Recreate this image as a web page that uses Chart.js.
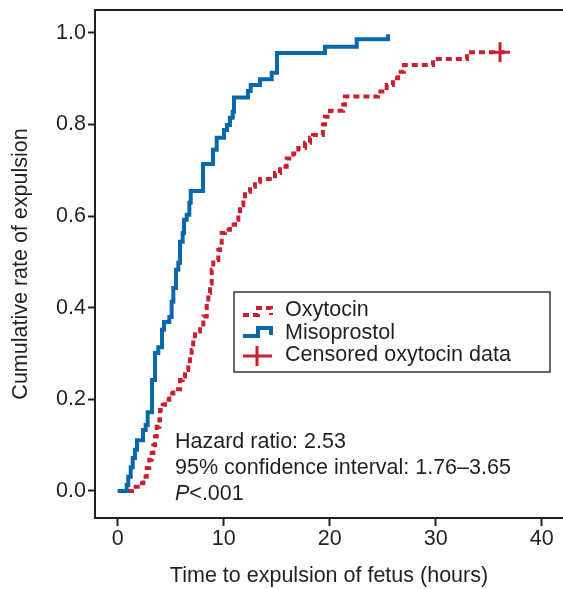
<!DOCTYPE html>
<html>
<head>
<meta charset="utf-8">
<script src="https://cdn.jsdelivr.net/npm/chart.js@4.4.1/dist/chart.umd.min.js"></script>
<style>
  html, body { margin: 0; padding: 0; background: #fff; }
</style>
</head>
<body>
<canvas id="km" width="563" height="589"></canvas>
<script>
// Kaplan-Meier style cumulative expulsion curves

const xTicks = [0, 10, 20, 30, 40];
const yTicks = [0, 0.2, 0.4, 0.6, 0.8, 1.0];

// Misoprostol: event times (hours) and cumulative rate after each step
const misoTimes = [0, 0.84, 0.99, 1.22, 1.41, 1.62, 1.81, 2.38, 2.63, 2.82, 3.23, 3.51, 3.82,
  4.17, 4.36, 4.86, 5.08, 5.24, 5.49, 5.71, 5.87, 6.12, 6.25, 6.50, 6.75, 6.88, 8.04, 8.98, 9.33,
  10.02, 10.30, 10.58, 10.84, 10.96, 12.28, 12.54, 13.42, 14.52, 15.02, 19.55, 22.54, 25.49];
const misoRates = [0, 0.013, 0.031, 0.052, 0.072, 0.090, 0.111, 0.133, 0.144, 0.172, 0.242, 0.301, 0.314,
  0.352, 0.369, 0.380, 0.413, 0.443, 0.483, 0.498, 0.544, 0.563, 0.592, 0.603, 0.629, 0.655, 0.714, 0.745, 0.771,
  0.788, 0.799, 0.815, 0.828, 0.859, 0.873, 0.886, 0.899, 0.913, 0.956, 0.970, 0.986, 0.997];

// Oxytocin
const oxyTimes = [0, 1.34, 2.09, 2.41, 2.73, 2.97, 3.20, 3.35, 3.51, 3.67,
  3.92, 3.98, 4.24, 4.45, 4.86, 5.24, 5.87, 6.12, 6.34, 6.65,
  6.81, 6.97, 7.12, 7.28, 7.75, 8.07, 8.39, 8.54, 8.70, 8.86,
  9.01, 9.48, 9.64, 9.80, 10.11, 10.58, 11.06, 11.37, 11.53, 11.84,
  12.00, 12.47, 12.94, 13.42, 14.83, 15.30, 15.93, 16.56, 17.03, 17.66,
  18.13, 18.42, 19.35, 19.55, 20.02, 21.27, 21.43, 24.55, 25.37, 25.96,
  26.43, 27.00, 29.74, 32.94, 36.5];
const oxyRates = [0, 0.009, 0.017, 0.031, 0.050, 0.068, 0.083, 0.100, 0.119, 0.140,
  0.155, 0.177, 0.188, 0.199, 0.213, 0.222, 0.242, 0.250, 0.264, 0.279,
  0.293, 0.308, 0.330, 0.348, 0.359, 0.381, 0.410, 0.432, 0.453, 0.483,
  0.504, 0.526, 0.537, 0.563, 0.570, 0.581, 0.592, 0.606, 0.624, 0.635,
  0.653, 0.664, 0.675, 0.681, 0.694, 0.708, 0.726, 0.737, 0.749, 0.760,
  0.771, 0.777, 0.800, 0.817, 0.830, 0.843, 0.861, 0.872, 0.886, 0.901,
  0.915, 0.930, 0.943, 0.958, 0.958];

// Censored oxytocin observation
const censorTimes = [36.06];
const censorRates = [0.958];

const legendLabels = ['Oxytocin', 'Misoprostol', 'Censored oxytocin data'];
const noteLines = ['Hazard ratio: 2.53', '95% confidence interval: 1.76\u20133.65'];

const ink = '#231f20';
const blue = '#0a68a9';
const red = '#c8202f';
const FONT = '"Liberation Sans", Arial, Helvetica, sans-serif';
const font = { family: FONT, size: 21.5 };

const pts = (xs, ys) => xs.map((x, i) => ({ x, y: ys[i] }));

// legend box + notes + top frame line
const extras = {
  id: 'extras',
  afterDraw(chart) {
    const { ctx, chartArea: a } = chart;
    ctx.save();
    ctx.strokeStyle = ink;
    ctx.lineWidth = 2;
    ctx.beginPath();
    ctx.moveTo(a.left, a.top);
    ctx.lineTo(a.right, a.top);
    ctx.stroke();

    // legend
    ctx.lineWidth = 1.5;
    ctx.strokeStyle = '#3a3a3a';
    ctx.strokeRect(234, 292, 316, 80);

    ctx.lineWidth = 4;
    ctx.strokeStyle = red;
    ctx.setLineDash([6, 4]);
    ctx.beginPath();
    ctx.moveTo(243, 315); ctx.lineTo(258, 315); ctx.lineTo(258, 308); ctx.lineTo(271, 308); ctx.lineTo(271, 315);
    ctx.stroke();
    ctx.setLineDash([]);

    ctx.strokeStyle = blue;
    ctx.beginPath();
    ctx.moveTo(243, 336); ctx.lineTo(258, 336); ctx.lineTo(258, 328); ctx.lineTo(271, 328); ctx.lineTo(271, 335);
    ctx.stroke();

    ctx.strokeStyle = red;
    ctx.lineWidth = 3;
    ctx.beginPath();
    ctx.moveTo(243, 356); ctx.lineTo(272, 356);
    ctx.moveTo(257, 346); ctx.lineTo(257, 366);
    ctx.stroke();

    ctx.fillStyle = ink;
    ctx.font = `21.5px ${FONT}`;
    ctx.textBaseline = 'middle';
    ctx.textAlign = 'left';
    [310, 333, 355].forEach((y, i) => ctx.fillText(legendLabels[i], 285, y));

    // notes
    ctx.fillText(noteLines[0], 175, 442);
    ctx.fillText(noteLines[1], 175, 468);
    ctx.font = `italic 21.5px ${FONT}`;
    ctx.fillText('P', 175, 494);
    const pw = ctx.measureText('P').width;
    ctx.font = `21.5px ${FONT}`;
    ctx.fillText('<.001', 175 + pw, 494);
    ctx.restore();
  }
};

new Chart(document.getElementById('km'), {
  type: 'line',
  data: {
    datasets: [
      {
        label: legendLabels[1], data: pts(misoTimes, misoRates), stepped: true,
        borderColor: blue, borderWidth: 4, pointRadius: 0, fill: false, order: 1,
        borderJoinStyle: 'miter'
      },
      {
        label: legendLabels[0], data: pts(oxyTimes, oxyRates), stepped: true,
        borderColor: red, borderWidth: 4, borderDash: [6, 4], pointRadius: 0, fill: false, order: 2
      },
      {
        label: legendLabels[2], data: pts(censorTimes, censorRates), showLine: false,
        pointStyle: 'cross', pointRadius: 10, pointBorderWidth: 3, borderColor: red, order: 0
      }
    ]
  },
  options: {
    responsive: false,
    animation: false,
    layout: { autoPadding: false, padding: { top: 10, right: 0, left: 0, bottom: 0 } },
    plugins: { legend: { display: false }, tooltip: { enabled: false } },
    scales: {
      x: {
        type: 'linear', min: -2.15, max: 42.0,
        afterBuildTicks: s => { s.ticks = xTicks.map(v => ({ value: v })); },
        afterFit: s => { s.height = 71; s.paddingLeft = 0; s.paddingRight = 0; },
        grid: { drawOnChartArea: false, tickLength: 8, tickWidth: 2, tickColor: ink },
        border: { color: ink, width: 2 },
        ticks: { color: ink, font, padding: 0, maxRotation: 0, autoSkip: false, callback: v => String(v) },
        title: { display: true, text: 'Time to expulsion of fetus (hours)', color: ink, font, padding: { top: 0, bottom: 0 } }
      },
      y: {
        type: 'linear', min: -0.059, max: 1.05,
        afterBuildTicks: s => { s.ticks = yTicks.map(v => ({ value: v })); },
        afterFit: s => { s.width = 95; s.paddingTop = 0; s.paddingBottom = 0; },
        grid: { drawOnChartArea: false, tickLength: 7, tickWidth: 2, tickColor: ink },
        border: { color: ink, width: 2 },
        ticks: { color: ink, font, padding: 2, autoSkip: false, callback: v => v.toFixed(1) },
        title: { display: true, text: 'Cumulative rate of expulsion', color: ink, font, padding: { top: 8, bottom: 0 } }
      }
    }
  },
  plugins: [extras]
});
</script>
</body>
</html>
